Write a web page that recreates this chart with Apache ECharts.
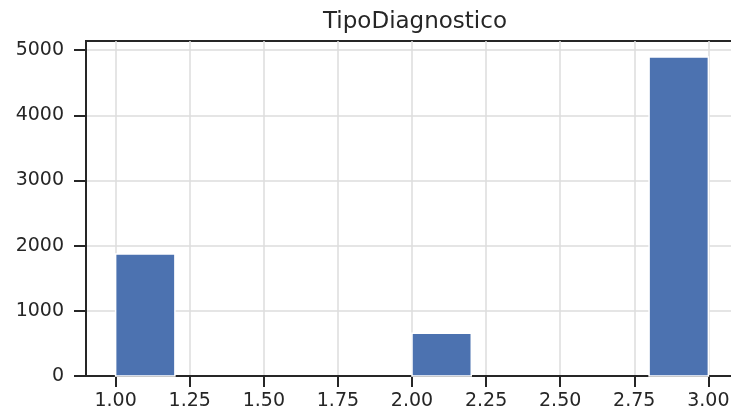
<!DOCTYPE html>
<html>
<head>
<meta charset="utf-8">
<script src="https://cdn.jsdelivr.net/npm/echarts@6/dist/echarts.min.js"></script>
<style>
html,body{margin:0;padding:0;background:#fff;}
#chart{width:731px;height:414px;}
</style>
</head>
<body>
<div id="chart"></div>
<script>
// Histogram bins (edges) and counts
const binEdges = [1.0, 1.2, 1.4, 1.6, 1.8, 2.0, 2.2, 2.4, 2.6, 2.8, 3.0];
const counts = [1872, 0, 0, 0, 0, 657, 0, 0, 0, 4895];
const xTicks = [1.00, 1.25, 1.50, 1.75, 2.00, 2.25, 2.50, 2.75, 3.00];
const yTicks = [0, 1000, 2000, 3000, 4000, 5000];
const titleText = 'TipoDiagnostico';

const data = counts.map((c, i) => [binEdges[i], binEdges[i + 1], c]);
const xMin = 0.9, xMax = 3.1;
const yMax = Math.max(...counts) * 1.05;

const chart = echarts.init(document.getElementById('chart'), null, {renderer: 'canvas'});
const txt = '#262626';
const font = 'DejaVu Sans';
chart.setOption({
  animation: false,
  backgroundColor: '#fff',
  title: {
    text: titleText,
    left: 410, top: 6, textAlign: 'center',
    textStyle: {fontFamily: font, fontSize: 23, fontWeight: 'normal', color: txt}
  },
  grid: {
    left: 86, top: 41, width: 652, height: 335,
    outerBoundsMode: 'none', containLabel: false,
    show: true, borderColor: txt, borderWidth: 2, backgroundColor: 'transparent'
  },
  xAxis: {
    type: 'value', min: xMin, max: xMax,
    axisLine: {show: true, onZero: false, lineStyle: {color: txt, width: 2}},
    axisTick: {show: true, length: 11, lineStyle: {color: txt, width: 2}, customValues: xTicks},
    axisLabel: {
      customValues: xTicks, margin: 16, color: txt, fontFamily: font, fontSize: 19,
      formatter: v => v.toFixed(2)
    },
    splitLine: {show: true, lineStyle: {color: '#dcdcdc', width: 1.5}}
  },
  yAxis: {
    type: 'value', min: 0, max: yMax,
    axisLine: {show: true, lineStyle: {color: txt, width: 2}},
    axisTick: {show: true, length: 12, lineStyle: {color: txt, width: 2}, customValues: yTicks},
    axisLabel: {customValues: yTicks, margin: 22, color: txt, fontFamily: font, fontSize: 19,
      formatter: v => String(v)},
    splitLine: {show: true, lineStyle: {color: '#dcdcdc', width: 1.5}}
  },
  series: [{
    type: 'custom',
    data: data,
    encode: {x: [0, 1], y: 2},
    renderItem: function (params, api) {
      const c = api.value(2);
      if (!c) return null;
      const p0 = api.coord([api.value(0), 0]);
      const p1 = api.coord([api.value(1), c]);
      return {
        type: 'rect',
        shape: {x: p0[0], y: p1[1], width: p1[0] - p0[0], height: p0[1] - p1[1]},
        style: {fill: '#4c72b0', stroke: '#ffffff', lineWidth: 1.5}
      };
    }
  }]
});
</script>
</body>
</html>
